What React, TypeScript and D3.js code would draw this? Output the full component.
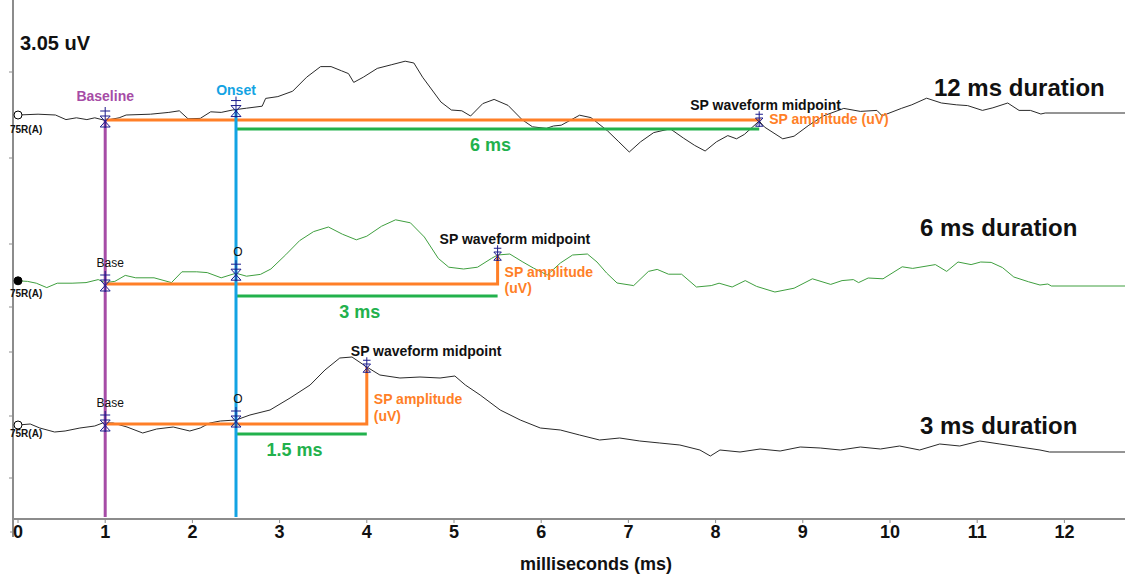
import React from 'react';
import * as d3 from 'd3';

// ---------- data ----------
const xTickValues = [0, 1, 2, 3, 4, 5, 6, 7, 8, 9, 10, 11, 12];
const yTickValues = [22.35, 18.05, 13.75, 10.6, 8.35, 5.15, 2.05];
const scaleLabel = '3.05 uV';
const xAxisTitle = 'milliseconds (ms)';
const channelLabel = '75R(A)';

const traceBaselines = [19.95, 11.75, 4.75]; // uV level of each trace's baseline
const baselineTime = 1;
const onsetTime = 2.5;
const midpointTimes = [8.5, 5.5, 4];
const durationLabels = ['12 ms duration', '6 ms duration', '3 ms duration'];
const halfDurationLabels = ['6 ms', '3 ms', '1.5 ms'];

// [ms, uV relative to trace baseline]
const trace12ms: [number, number][] = [
  [0, 0.25], [0.23, 0.29], [0.43, 0.25], [0.55, 0.02], [0.67, 0.11], [0.79, 0.02], [0.88, 0.11],
  [1.0, -0.02], [1.16, 0.11], [1.24, 0.25], [1.52, 0.29], [1.73, 0.38], [1.85, 0.46], [1.95, 0.06],
  [2.09, 0.08], [2.21, 0.41], [2.33, 0.38], [2.46, 0.5], [2.62, 0.59], [2.8, 0.69], [2.84, 1.08],
  [2.98, 1.17], [3.15, 1.44], [3.31, 2.14], [3.47, 2.67], [3.59, 2.67], [3.71, 2.46], [3.79, 2.32],
  [3.85, 1.88], [3.96, 2.14], [4.12, 2.58], [4.28, 2.76], [4.44, 2.94], [4.54, 2.85], [4.64, 2.14],
  [4.85, 0.9], [4.97, 0.5], [5.09, 0.46], [5.19, 0.2], [5.33, 0.82], [5.46, 1.03], [5.62, 0.73],
  [5.78, 0.02], [5.9, -0.34], [6.06, -0.42], [6.14, -0.3], [6.23, -0.26], [6.44, 0.24], [6.57, 0.12],
  [6.76, -0.54], [6.89, -1.09], [7.01, -1.6], [7.14, -1.09], [7.29, -0.63], [7.48, -0.44], [7.63, -0.9],
  [7.76, -1.27], [7.88, -1.55], [8.01, -1.09], [8.14, -0.78], [8.24, -0.94], [8.33, -0.72], [8.5, -0.05],
  [8.56, -0.35], [8.77, -0.94], [8.9, -0.81], [9.07, -0.26], [9.24, 0.21], [9.47, 0.58], [9.66, 0.43],
  [9.85, 0.48], [9.91, 0.21], [10.13, 0.58], [10.25, 0.76], [10.42, 1.09], [10.59, 0.85], [10.76, 0.76],
  [10.89, 0.72], [11.06, 0.48], [11.18, 0.61], [11.35, 0.85], [11.48, 0.48], [11.61, 0.48], [11.73, 0.3],
  [11.78, 0.35], [12.7, 0.35],
];

const trace6ms: [number, number][] = [
  [0, 0.16], [0.11, 0.13], [0.21, 0.04], [0.33, -0.18], [0.45, 0.04], [0.62, 0.04], [0.78, 0.07],
  [0.92, 0.22], [1.0, 0.07], [1.11, 0.13], [1.23, 0.43], [1.35, 0.31], [1.56, 0.31], [1.76, 0.07],
  [1.88, 0.61], [2.05, 0.61], [2.17, 0.57], [2.33, 0.31], [2.5, 0.54], [2.62, 0.39], [2.78, 0.48],
  [2.9, 0.75], [3.07, 1.46], [3.23, 2.17], [3.39, 2.62], [3.56, 2.85], [3.72, 2.49], [3.88, 2.21],
  [4.0, 2.39], [4.17, 2.89], [4.33, 3.21], [4.5, 3.06], [4.66, 2.35], [4.82, 1.28], [4.94, 0.84],
  [5.11, 0.75], [5.27, 0.84], [5.43, 1.28], [5.5, 1.45], [5.64, 1.5], [5.79, 1.1], [5.91, 0.8],
  [6.07, 0.45], [6.22, 1.05], [6.36, 1.45], [6.53, 1.5], [6.64, 1.1], [6.75, 0.55], [6.87, 0.05],
  [7.06, -0.08], [7.23, 0.63], [7.33, 0.73], [7.46, 0.49], [7.61, 0.49], [7.78, -0.15], [7.95, -0.08],
  [8.04, 0.04], [8.19, -0.15], [8.34, 0.17], [8.47, -0.12], [8.68, -0.4], [8.9, -0.21], [9.11, 0.26],
  [9.32, -0.02], [9.45, 0.17], [9.58, 0.22], [9.64, 0.07], [9.75, 0.3], [9.92, 0.26], [10.14, 0.86],
  [10.26, 0.78], [10.52, 0.97], [10.65, 0.63], [10.78, 1.1], [10.93, 0.97], [11.04, 1.1], [11.16, 1.08],
  [11.29, 0.82], [11.42, 0.35], [11.59, 0.11], [11.72, -0.05], [11.81, 0.0], [11.85, -0.1], [12.7, -0.1],
];

const trace3ms: [number, number][] = [
  [0, -0.05], [0.14, 0], [0.25, -0.2], [0.42, -0.4], [0.54, -0.35], [0.71, -0.2], [0.88, -0.1],
  [0.97, 0.05], [1.09, 0.05], [1.25, -0.15], [1.43, -0.45], [1.59, -0.25], [1.78, -0.15], [1.97, -0.35],
  [2.09, -0.2], [2.2, 0.05], [2.32, 0.15], [2.5, 0.2], [2.66, 0.45], [2.89, 0.7], [3.12, 1.3],
  [3.35, 1.95], [3.52, 2.7], [3.69, 3.3], [3.83, 3.35], [4.0, 2.85], [4.15, 2.45], [4.38, 2.3],
  [4.61, 2.35], [4.84, 2.3], [5.01, 2.4], [5.13, 1.95], [5.3, 1.45], [5.53, 0.7], [5.76, 0.2],
  [5.99, -0.2], [6.22, -0.3], [6.44, -0.55], [6.67, -0.8], [6.9, -0.7], [7.13, -0.85], [7.36, -0.95],
  [7.59, -1.05], [7.82, -1.3], [7.94, -1.6], [8.05, -1.3], [8.28, -1.4], [8.51, -1.25], [8.74, -1.35],
  [8.97, -1.15], [9.2, -1.2], [9.43, -1.3], [9.66, -1.15], [9.89, -1.25], [10.11, -1.1], [10.34, -1.3],
  [10.57, -1.0], [10.8, -1.1], [11.03, -0.85], [11.26, -1.0], [11.49, -1.15], [11.72, -1.3], [11.83, -1.4],
  [12.7, -1.4],
];

const traces = [trace12ms, trace6ms, trace3ms];

// ---------- layout / style ----------
const W = 1125;
const H = 574;
const FONT = '"Liberation Sans", Arial, Helvetica, sans-serif';
const C = {
  axis: '#8c8c8c',
  purple: '#a64ca6',
  blue: '#13a3e3',
  orange: '#ff7f27',
  green: '#22b14c',
  marker: '#1c1c8c',
  traces: ['#2a2a2a', '#3f9f3f', '#2a2a2a'],
};
const greenOffsets = [9, 12, 10];
const midLabelDx = [-69, -58, -16];
const ampLayout = [
  { dx: 10, lines: ['SP amplitude (uV)'], dy: [4] },
  { dx: 7, lines: ['SP amplitude', '(uV)'], dy: [-7, 9] },
  { dx: 7, lines: ['SP amplitude', '(uV)'], dy: [-20, -3] },
];
const durationLabelX = [934, 920, 920];
const durationLabelDy = [-24, -48, 10];

function valueAt(series: [number, number][], t: number) {
  const i = d3.bisector((d: [number, number]) => d[0]).left(series, t);
  if (i <= 0) return series[0][1];
  if (i >= series.length) return series[series.length - 1][1];
  const [x0, y0] = series[i - 1];
  const [x1, y1] = series[i];
  if (x1 === x0) return y1;
  return y0 + ((y1 - y0) * (t - x0)) / (x1 - x0);
}

function Marker({ cx, cy, s = 1 }: { cx: number; cy: number; s?: number }) {
  const p = (dx: number, dy: number) => `${cx + dx * s},${cy + dy * s}`;
  const d = [
    `M${p(0, -13)}L${p(0, 8)}`,
    `M${p(-5, -9)}L${p(5, -9)}`,
    `M${p(-5, -4)}L${p(5, -4)}L${p(-5, 7)}L${p(5, 7)}Z`,
  ].join('');
  return <path d={d} fill="none" stroke={C.marker} strokeWidth={1} />;
}

export default function App() {
  const x = d3.scaleLinear().domain([0, 12.7]).range([18, 18 + 12.7 * 87.2]);
  const y = d3.scaleLinear().domain([0, 25.95]).range([519, 0]);
  const axisY = y(0);

  const line = (base: number) =>
    d3
      .line<[number, number]>()
      .x((d) => x(d[0]))
      .y((d) => y(base + d[1]));

  const xb = x(baselineTime);
  const xo = x(onsetTime);
  const onsetTopY = y(traceBaselines[0] + valueAt(trace12ms, onsetTime));

  return (
    <svg
      width={W}
      height={H}
      style={{ position: 'absolute', left: 0, top: 0, background: '#fff' }}
      fontFamily={FONT}
    >
      <rect x={0} y={0} width={W} height={H} fill="#fff" />

      {/* axes */}
      <line x1={13} y1={0} x2={13} y2={537} stroke={C.axis} strokeWidth={2} />
      <line x1={13} y1={axisY} x2={W} y2={axisY} stroke={C.axis} strokeWidth={2} />
      <line x1={10} y1={532} x2={13} y2={532} stroke={C.axis} strokeWidth={1} />
      {yTickValues.map((v, i) => (
        <line key={'yt' + i} x1={9} y1={y(v)} x2={13} y2={y(v)} stroke={C.axis} strokeWidth={1} />
      ))}
      {xTickValues.map((v) => (
        <g key={'xt' + v}>
          <line x1={x(v)} y1={axisY} x2={x(v)} y2={axisY + 4} stroke={C.axis} strokeWidth={1} />
          <text x={x(v)} y={538} textAnchor="middle" fontSize={18} fontWeight="bold" fill="#111">
            {v}
          </text>
        </g>
      ))}
      <text x={596} y={570} textAnchor="middle" fontSize={18} fontWeight="bold" fill="#111">
        {xAxisTitle}
      </text>
      <text x={20} y={50} fontSize={20} fontWeight="bold" fill="#111">
        {scaleLabel}
      </text>

      {/* traces */}
      {traces.map((tr, i) => (
        <path
          key={'tr' + i}
          d={line(traceBaselines[i])(tr) || ''}
          fill="none"
          stroke={C.traces[i]}
          strokeWidth={1}
        />
      ))}
      {traces.map((tr, i) => (
        <circle
          key={'st' + i}
          cx={x(tr[0][0])}
          cy={y(traceBaselines[i] + tr[0][1])}
          r={4}
          fill={i === 1 ? '#000' : '#fff'}
          stroke="#000"
          strokeWidth={1}
        />
      ))}
      {traces.map((_, i) => (
        <text
          key={'ch' + i}
          x={10}
          y={y(traceBaselines[i]) + 13}
          fontSize={10}
          fontWeight="bold"
          fill="#111"
        >
          {channelLabel}
        </text>
      ))}

      {/* orange amplitude lines and green half-duration lines */}
      {traces.map((tr, i) => {
        const by = y(traceBaselines[i]);
        const xm = x(midpointTimes[i]);
        const my = y(traceBaselines[i] + valueAt(tr, midpointTimes[i]));
        const gy = by + greenOffsets[i];
        return (
          <g key={'ann' + i}>
            <path d={`M${xb},${by}L${xm},${by}L${xm},${my}`} fill="none" stroke={C.orange} strokeWidth={3} />
            <line x1={xo} y1={gy} x2={xm} y2={gy} stroke={C.green} strokeWidth={3} />
            <text
              x={(xo + xm) / 2 - 7}
              y={gy + 22}
              textAnchor="middle"
              fontSize={18}
              fontWeight="bold"
              fill={C.green}
            >
              {halfDurationLabels[i]}
            </text>
          </g>
        );
      })}

      {/* baseline & onset verticals */}
      <line x1={xb} y1={y(traceBaselines[0])} x2={xb} y2={axisY - 2} stroke={C.purple} strokeWidth={3} />
      <line x1={xo} y1={onsetTopY} x2={xo} y2={axisY - 2} stroke={C.blue} strokeWidth={3} />

      {/* markers and labels */}
      {traces.map((tr, i) => {
        const by = y(traceBaselines[i]);
        const oy = y(traceBaselines[i] + valueAt(tr, onsetTime));
        const xm = x(midpointTimes[i]);
        const my = y(traceBaselines[i] + valueAt(tr, midpointTimes[i]));
        const amp = ampLayout[i];
        return (
          <g key={'mk' + i}>
            <Marker cx={xb} cy={by} />
            <Marker cx={xo} cy={oy} />
            <Marker cx={xm} cy={my} s={0.75} />
            <text x={xm + midLabelDx[i]} y={my - 11} fontSize={14} fontWeight="bold" fill="#111">
              SP waveform midpoint
            </text>
            {amp.lines.map((t, k) => (
              <text
                key={k}
                x={xm + amp.dx}
                y={by + amp.dy[k]}
                fontSize={14}
                fontWeight="bold"
                fill={C.orange}
              >
                {t}
              </text>
            ))}
            {i > 0 && (
              <>
                <text x={xb + 5} y={by - 17} textAnchor="middle" fontSize={12} fill="#111">
                  Base
                </text>
                <text x={xo + 2} y={oy - 17} textAnchor="middle" fontSize={12} fill="#111">
                  O
                </text>
              </>
            )}
            <text
              x={durationLabelX[i]}
              y={by + durationLabelDy[i]}
              fontSize={24}
              fontWeight="bold"
              fill="#111"
            >
              {durationLabels[i]}
            </text>
          </g>
        );
      })}
      <text x={xb} y={101} textAnchor="middle" fontSize={14} fontWeight="bold" fill={C.purple}>
        Baseline
      </text>
      <text x={xo} y={95} textAnchor="middle" fontSize={14} fontWeight="bold" fill={C.blue}>
        Onset
      </text>
    </svg>
  );
}
